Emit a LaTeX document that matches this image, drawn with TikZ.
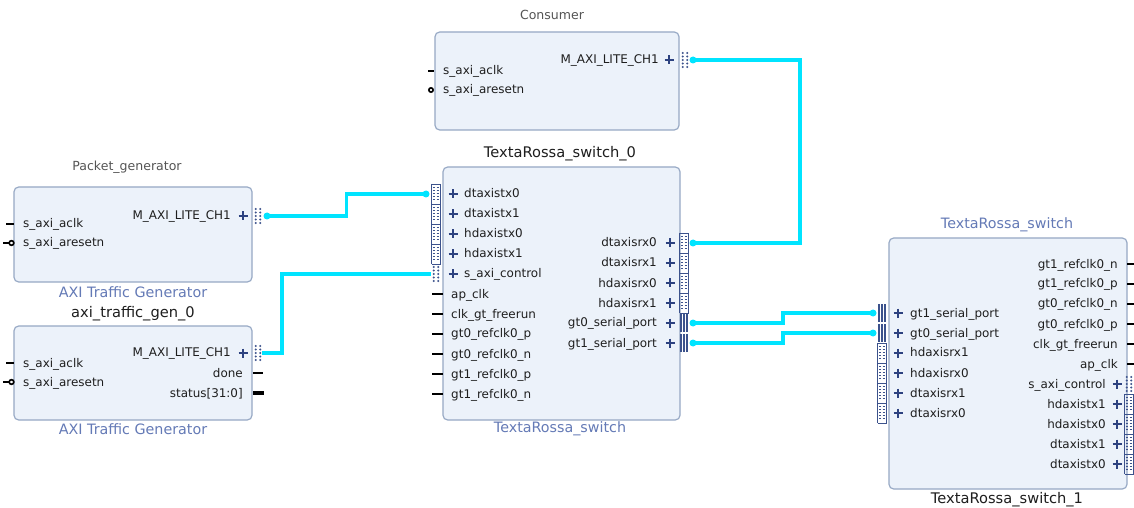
\documentclass[tikz,border=0pt]{standalone}
\usepackage{fontspec}
\setmainfont{DejaVu Sans}
\usetikzlibrary{fit,calc}

\definecolor{blkfill}{RGB}{236,242,250}
\definecolor{blkedge}{RGB}{150,168,196}
\definecolor{subblue}{RGB}{100,122,182}
\definecolor{plusblue}{RGB}{45,66,128}
\definecolor{glyphblue}{RGB}{60,82,140}
\definecolor{netcyan}{RGB}{0,228,255}
\definecolor{titlegray}{RGB}{85,85,85}
\definecolor{titledark}{RGB}{30,30,30}

\tikzset{
  ipblock/.style={draw=blkedge, fill=blkfill, line width=1pt, rounded corners=4pt, inner sep=0pt},
  pinlbl/.style={inner sep=0pt, font=\fontsize{10.2}{12}\selectfont, text=titledark},
  instname/.style={inner sep=0pt, font=\fontsize{12.5}{15}\selectfont, text=titledark},
  cellname/.style={inner sep=0pt, font=\fontsize{10.7}{13}\selectfont, text=titlegray},
  ipname/.style={inner sep=0pt, font=\fontsize{12.2}{15}\selectfont, text=subblue},
  plusmark/.style={draw=plusblue, line width=1.5pt},
  glyphline/.style={draw=glyphblue, line width=0.8pt},
  stub/.style={draw=black, line width=2.4pt},
  busstub/.style={draw=black, line width=4pt},
  resetring/.style={draw=black, line width=1.4pt, fill=white},
  wire/.style={draw=netcyan, line width=2.6pt},
  pindot/.style={fill=netcyan},
}

% pin labels: left-aligned / right-aligned on a row
\newcommand\lpin[3]{\node[pinlbl,anchor=base west] at (#1,#2+4) {#3};}
\newcommand\rpin[3]{\node[pinlbl,anchor=base east] at (#1,#2+4) {#3};}
% interface "+" expander
\newcommand\plussign[2]{\draw[plusmark] (#1-4.5,#2)--(#1+4.5,#2) (#1,#2-4.5)--(#1,#2+4.5);}
% AXI-Stream interface connector
\newcommand\strmglyph[2]{%
  \draw[glyphline] (#1-4.5,#2-10)--(#1-4.5,#2+10) (#1+4.5,#2-10)--(#1+4.5,#2+10)
    (#1-4.5,#2-10)--(#1+4.5,#2-10) (#1-4.5,#2+10)--(#1+4.5,#2+10);
  \foreach \k in {-6.5,-3.5,-0.5,2.5,5.5}{%
    \draw[glyphline] (#1-3.2,#2+\k)--(#1-0.7,#2+\k) (#1+0.7,#2+\k)--(#1+3.2,#2+\k);}
}
% AXI-Lite interface connector
\newcommand\liteglyph[2]{%
  \foreach \k in {-7,-3.5,0,3.5,7}{%
    \fill[glyphblue] (#1-2.2,#2+\k) circle[radius=0.32mm] (#1+2.2,#2+\k) circle[radius=0.32mm];}
}
% serial (GT) interface connector
\newcommand\serglyph[2]{%
  \draw[glyphblue, line width=1.1pt] (#1-3,#2-9)--(#1-3,#2+9) (#1,#2-9)--(#1,#2+9) (#1+3,#2-9)--(#1+3,#2+9);}

\begin{document}
\begin{tikzpicture}[x=0.03cm,y=-0.03cm]
\useasboundingbox[fill=white] (0,0) rectangle (1134,508);

% ---------------- Packet_generator ----------------
\node[ipblock, fit={(14,187)(252,282)}] (pg) {};
\node[cellname] (pg-title) at (127,167) {Packet\_generator};
\node[ipname] (pg-ip) at (133,292) {AXI Traffic Generator};
\lpin{23}{224}{s\_axi\_aclk}
\lpin{23}{243}{s\_axi\_aresetn}
\rpin{231}{216}{M\_AXI\_LITE\_CH1}
\plussign{243}{216}
\liteglyph{258}{216}
\draw[stub] (6,224)--(14,224);
\draw[stub] (3,243)--(9,243);
\draw[resetring] (11.5,243) circle[radius=0.7mm];
\coordinate (pg-m) at (267,216);

% ---------------- axi_traffic_gen_0 ----------------
\node[ipblock, fit={(14,326)(252,420)}] (atg) {};
\node[instname] (atg-title) at (133,314) {axi\_traffic\_gen\_0};
\node[ipname] (atg-ip) at (133,429) {AXI Traffic Generator};
\lpin{23}{363}{s\_axi\_aclk}
\lpin{23}{382}{s\_axi\_aresetn}
\rpin{231}{353}{M\_AXI\_LITE\_CH1}
\rpin{243}{373}{done}
\rpin{243}{393}{status[31:0]}
\plussign{243}{353}
\liteglyph{258}{353}
\draw[stub] (6,363)--(14,363);
\draw[stub] (3,382)--(9,382);
\draw[resetring] (11.5,382) circle[radius=0.7mm];
\draw[stub] (253,373)--(263,373);
\draw[busstub] (253,393)--(264,393);
\coordinate (atg-m) at (262,353);

% ---------------- Consumer ----------------
\node[ipblock, fit={(435,32)(679,130)}] (cons) {};
\node[cellname] (cons-title) at (552,15) {Consumer};
\lpin{443}{71}{s\_axi\_aclk}
\lpin{443}{90}{s\_axi\_aresetn}
\rpin{659}{60}{M\_AXI\_LITE\_CH1}
\plussign{669}{60}
\liteglyph{685}{60}
\draw[stub] (428,71)--(434,71);
\draw[resetring] (431,90) circle[radius=0.65mm];
\coordinate (cons-m) at (693,60);

% ---------------- TextaRossa_switch_0 ----------------
\node[ipblock, fit={(443,167)(680,420)}] (sw0) {};
\node[instname] (sw0-title) at (560,154) {TextaRossa\_switch\_0};
\node[ipname] (sw0-ip) at (560,429) {TextaRossa\_switch};
% left side interfaces
\foreach \y/\t in {194/dtaxistx0,214/dtaxistx1,234/hdaxistx0,254/hdaxistx1}{
  \lpin{464}{\y}{\t}
  \plussign{453}{\y}
  \strmglyph{436}{\y}
}
\lpin{464}{274}{s\_axi\_control}
\plussign{453}{274}
\liteglyph{436}{274}
% left side clock pins
\foreach \y/\t in {294/ap\_clk,314/clk\_gt\_freerun,334/gt0\_refclk0\_p,354/gt0\_refclk0\_n,374/gt1\_refclk0\_p,394/gt1\_refclk0\_n}{
  \lpin{451}{\y}{\t}
  \draw[stub] (432,\y)--(443,\y);
}
% right side interfaces
\foreach \y/\t in {243/dtaxisrx0,263/dtaxisrx1,283/hdaxisrx0,303/hdaxisrx1}{
  \rpin{657}{\y}{\t}
  \plussign{670}{\y}
  \strmglyph{684}{\y}
}
\foreach \y/\t in {323/gt0\_serial\_port,343/gt1\_serial\_port}{
  \rpin{657}{\y}{\t}
  \plussign{670}{\y}
  \serglyph{684}{\y}
}
\coordinate (sw0-dtx0) at (426,194);
\coordinate (sw0-sctl) at (431,274);
\coordinate (sw0-drx0) at (693,243);
\coordinate (sw0-gt0) at (693,323);
\coordinate (sw0-gt1) at (693,343);

% ---------------- TextaRossa_switch_1 ----------------
\node[ipblock, fit={(889,238)(1127,489)}] (sw1) {};
\node[ipname] (sw1-ip) at (1007,225) {TextaRossa\_switch};
\node[instname] (sw1-title) at (1007,500) {TextaRossa\_switch\_1};
% left side interfaces
\foreach \y/\t in {313/gt1\_serial\_port,333/gt0\_serial\_port}{
  \lpin{910}{\y}{\t}
  \plussign{898}{\y}
  \serglyph{882}{\y}
}
\foreach \y/\t in {353/hdaxisrx1,373/hdaxisrx0,393/dtaxisrx1,413/dtaxisrx0}{
  \lpin{910}{\y}{\t}
  \plussign{898}{\y}
  \strmglyph{882}{\y}
}
% right side clock pins
\foreach \y/\t in {264/gt1\_refclk0\_n,284/gt1\_refclk0\_p,304/gt0\_refclk0\_n,324/gt0\_refclk0\_p,344/clk\_gt\_freerun,364/ap\_clk}{
  \rpin{1118}{\y}{\t}
  \draw[stub] (1127,\y)--(1134,\y);
}
% right side interfaces
\rpin{1106}{384}{s\_axi\_control}
\plussign{1117}{384}
\liteglyph{1129}{384}
\foreach \y/\t in {404/hdaxistx1,424/hdaxistx0,444/dtaxistx1,464/dtaxistx0}{
  \rpin{1106}{\y}{\t}
  \plussign{1117}{\y}
  \strmglyph{1129}{\y}
}
\coordinate (sw1-gt1) at (873,313);
\coordinate (sw1-gt0) at (873,333);

% ---------------- nets ----------------
\draw[wire] (pg-m) -| ($(pg-m)!.5!(sw0-dtx0)$) |- (sw0-dtx0);
\draw[wire] (atg-m) -- ++(20,0) |- (sw0-sctl);
\draw[wire] (cons-m) -- ++(107,0) |- (sw0-drx0);
\draw[wire] (sw0-gt0) -- ++(90,0) |- (sw1-gt1);
\draw[wire] (sw0-gt1) -- ++(90,0) |- (sw1-gt0);
\foreach \p in {pg-m,cons-m,sw0-dtx0,sw0-drx0,sw0-gt0,sw0-gt1,sw1-gt1,sw1-gt0}
  \fill[pindot] (\p) circle[radius=1.05mm];

\end{tikzpicture}
\end{document}
